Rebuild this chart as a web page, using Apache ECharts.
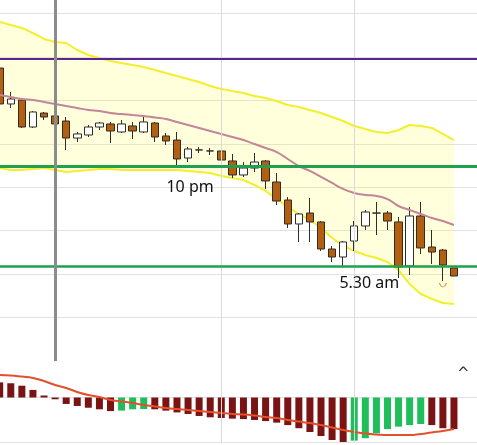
<!DOCTYPE html>
<html>
<head>
<meta charset="utf-8">
<script src="https://cdn.jsdelivr.net/npm/echarts@6/dist/echarts.min.js"></script>
<style>
html,body{margin:0;padding:0;background:#fff;}
#chart{width:477px;height:445px;}
</style>
</head>
<body>
<div id="chart"></div>
<script>
const categories = ['13:30','14:00','14:30','15:00','15:30','16:00','16:30','17:00','17:30','18:00','18:30','19:00','19:30','20:00','20:30','21:00','21:30','22:00','22:30','23:00','23:30','00:00','00:30','01:00','01:30','02:00','02:30','03:00','03:30','04:00','04:30','05:00','05:30','06:00','06:30','07:00','07:30','08:00','08:30','09:00','09:30','10:00','10:30','11:00'];

// [open, close, low, high]
const candles = [
  [2328.72,2324.58,2324.35,2328.95],
  [2324.58,2325.15,2324.12,2325.96],
  [2325.04,2321.93,2321.82,2325.27],
  [2321.93,2323.66,2321.82,2323.77],
  [2323.54,2323.08,2322.74,2323.66],
  [2323.20,2322.28,2322.16,2323.31],
  [2322.62,2320.66,2319.28,2323.08],
  [2320.66,2321.13,2320.20,2321.36],
  [2321.01,2321.93,2320.78,2322.16],
  [2321.93,2322.39,2321.59,2322.51],
  [2322.28,2321.47,2320.09,2322.51],
  [2321.36,2322.28,2321.24,2322.74],
  [2322.05,2321.47,2320.55,2322.51],
  [2321.36,2322.51,2321.24,2323.08],
  [2322.39,2320.78,2320.20,2322.51],
  [2320.90,2320.32,2319.86,2321.24],
  [2320.43,2318.25,2317.56,2321.36],
  [2318.36,2319.40,2317.90,2319.63],
  [2319.28,2319.30,2318.94,2319.63],
  [2319.17,2319.18,2318.71,2319.51],
  [2319.17,2318.13,2317.79,2319.28],
  [2318.02,2316.41,2316.06,2318.82],
  [2316.41,2317.21,2316.18,2317.90],
  [2317.21,2317.90,2316.75,2318.94],
  [2318.02,2315.72,2314.80,2318.13],
  [2315.60,2313.41,2312.95,2316.64],
  [2313.53,2310.77,2310.31,2313.87],
  [2310.77,2311.92,2308.70,2312.03],
  [2312.03,2311.00,2308.70,2313.76],
  [2311.00,2307.89,2307.66,2311.11],
  [2307.89,2306.97,2306.39,2308.24],
  [2306.97,2308.70,2305.93,2308.81],
  [2308.81,2310.54,2307.66,2311.11],
  [2310.54,2312.15,2310.08,2312.38],
  [2312.02,2312.03,2309.50,2313.30],
  [2312.03,2311.11,2310.08,2312.26],
  [2311.00,2305.82,2304.55,2311.57],
  [2305.93,2311.69,2304.90,2312.72],
  [2311.69,2308.01,2307.31,2313.30],
  [2308.12,2307.54,2306.16,2310.08],
  [2307.77,2306.05,2304.21,2307.89],
  [2305.70,2304.78,2304.78,2305.70]
];

const movingAvg = [2325.61,2325.38,2325.15,2325.04,2324.81,2324.58,2324.35,2324.12,2323.89,2323.77,2323.54,2323.43,2323.31,2323.20,2323.02,2322.85,2322.51,2322.16,2321.82,2321.47,2321.13,2320.78,2320.43,2319.97,2319.51,2319.05,2318.25,2317.44,2316.87,2316.18,2315.49,2314.80,2314.34,2314.11,2313.99,2313.64,2312.84,2312.38,2311.92,2311.46,2311.11,2310.65];

const bbUpper = [2334.02,2333.67,2333.33,2332.75,2332.06,2331.71,2331.60,2330.79,2330.22,2329.87,2329.53,2329.30,2329.07,2328.84,2328.49,2328.15,2327.80,2327.46,2327.11,2326.65,2326.30,2326.07,2325.84,2325.50,2325.27,2324.92,2324.46,2324.23,2323.89,2323.54,2323.08,2322.62,2322.05,2321.70,2321.36,2321.24,2321.59,2322.16,2322.05,2321.82,2321.13,2320.43];

const bbLower = [2317.21,2316.98,2316.98,2317.10,2317.21,2316.98,2316.75,2316.87,2316.98,2317.10,2317.10,2316.98,2316.98,2316.98,2316.98,2316.98,2316.98,2316.87,2316.75,2316.64,2316.29,2316.06,2315.83,2315.26,2314.57,2313.64,2312.72,2311.92,2311.23,2310.31,2309.16,2308.24,2307.66,2307.20,2306.85,2306.39,2305.47,2303.86,2302.71,2302.14,2301.68,2301.56];

const macdHist = [0.68,0.64,0.53,0.34,0.09,-0.08,-0.29,-0.38,-0.46,-0.53,-0.61,-0.59,-0.53,-0.52,-0.53,-0.59,-0.67,-0.74,-0.83,-0.89,-0.92,-0.95,-0.97,-1.01,-1.06,-1.13,-1.24,-1.38,-1.55,-1.73,-1.91,-2.00,-1.94,-1.83,-1.61,-1.42,-1.31,-1.24,-1.19,-1.24,-1.38,-1.42];

const macdSignal = [1.01,0.99,0.94,0.88,0.74,0.56,0.43,0.25,0.11,0.02,-0.11,-0.18,-0.25,-0.34,-0.40,-0.47,-0.52,-0.56,-0.61,-0.65,-0.70,-0.74,-0.76,-0.81,-0.88,-0.92,-1.01,-1.08,-1.15,-1.24,-1.35,-1.46,-1.55,-1.62,-1.66,-1.69,-1.69,-1.69,-1.64,-1.57,-1.51,-1.42];

const resistanceLevel = 2329.75;
const supportLevels = [2317.44, 2305.93];
const cursorTime = '16:00';
const sessionTimes = ['23:30','05:30'];
const notes = [
  {text:'10 pm', time:'22:00', price:2315.03, dx:2},
  {text:'5.30 am', time:'06:00', price:2303.98, dx:4}
];
const arcMark = {time:'09:30', price:2303.75};

const bandWidth = bbUpper.map((u,i)=>+(u - bbLower[i]).toFixed(2));

const chart = echarts.init(document.getElementById('chart'), null, {renderer:'canvas'});
const gridLeft = -5.84, gridWidth = 487.5;
const BAND = '#F3EF2E';
const option = {
  animation:false,
  backgroundColor:'#fff',
  grid:[
    {left:gridLeft, width:gridWidth, top:-30, height:391, outerBoundsMode:'none', containLabel:false},
    {left:gridLeft, width:gridWidth, top:353, height:89, outerBoundsMode:'none', containLabel:false}
  ],
  xAxis:[
    {type:'category', data:categories, gridIndex:0, boundaryGap:true,
     axisLine:{show:false}, axisTick:{show:false}, axisLabel:{show:false}, splitLine:{show:false}},
    {type:'category', data:categories, gridIndex:1, boundaryGap:true,
     axisLine:{show:false}, axisTick:{show:false}, axisLabel:{show:false}, splitLine:{show:false}}
  ],
  yAxis:[
    {type:'value', gridIndex:0, min:2295, max:2340, interval:5, scale:true,
     axisLine:{show:false}, axisTick:{show:false}, axisLabel:{show:false},
     splitLine:{show:true, showMinLine:false, showMaxLine:false, lineStyle:{color:'#e2e2e2', width:1}}},
    {type:'value', gridIndex:1, min:-2, max:2, interval:2,
     axisLine:{show:false}, axisTick:{show:false}, axisLabel:{show:false},
     splitLine:{show:true, showMaxLine:false, lineStyle:{color:'#e2e2e2', width:1}}}
  ],
  series:[
    {name:'BB lower', type:'line', data:bbLower, stack:'bb', symbol:'none', z:1,
     lineStyle:{color:BAND, width:2}, silent:true,
     markLine:{silent:true, symbol:'none', label:{show:false}, animation:false,
       lineStyle:{color:'#dadada', width:1, type:'solid'},
       data: sessionTimes.map(t=>({xAxis:t}))}},
    {name:'BB upper', type:'line', data:bandWidth, stack:'bb', symbol:'none', z:1,
     lineStyle:{color:BAND, width:2}, areaStyle:{color:'rgba(255,255,0,0.2)'}, silent:true},
    {name:'Price', type:'candlestick', data:candles, barWidth:8, z:3,
     itemStyle:{color:'#ffffff', color0:'#B45F0F', borderColor:'#2d2d2d', borderColor0:'#2d2d2d', borderWidth:1},
     markPoint:{silent:true, animation:false,
       data: notes.map(n=>({coord:[n.time, n.price], symbol:'rect', symbolSize:[1,1],
         itemStyle:{color:'rgba(0,0,0,0)'},
         label:{show:true, position:'inside', offset:[n.dx,0], formatter:n.text, color:'#111', fontSize:16, fontFamily:'Noto Sans'}}))
         .concat([{coord:[arcMark.time, arcMark.price], symbol:'path://M0,0 Q5,7 10,0', symbolSize:[7,4],
           itemStyle:{color:'rgba(0,0,0,0)', borderColor:'#D48A4A', borderWidth:1}, label:{show:false}}])
     }},
    {name:'MA', type:'line', data:movingAvg, symbol:'none', smooth:true, z:4,
     lineStyle:{color:'#C4849A', width:2},
     markLine:{silent:true, symbol:'none', label:{show:false}, animation:false,
       data:[
         {yAxis:resistanceLevel, lineStyle:{color:'#5A2397', width:2, type:'solid'}},
         {yAxis:supportLevels[0], lineStyle:{color:'#21A04E', width:3, type:'solid'}},
         {yAxis:supportLevels[1], lineStyle:{color:'#21A04E', width:2.5, type:'solid'}},
         {xAxis:cursorTime, lineStyle:{color:'#8c8c8c', width:3, type:'solid'}}
       ]}},
    {name:'MACD hist', type:'bar', xAxisIndex:1, yAxisIndex:1, data:macdHist, barWidth:7, z:2,
     itemStyle:{color:(p)=>{const i=p.dataIndex; return (i>0 && macdHist[i]>macdHist[i-1]) ? '#20BE5A' : '#7A1414';}},
     markLine:{silent:true, symbol:'none', label:{show:false}, animation:false,
       lineStyle:{color:'#dadada', width:1, type:'solid'},
       data: sessionTimes.map(t=>({xAxis:t}))}},
    {name:'Signal', type:'line', xAxisIndex:1, yAxisIndex:1, data:macdSignal, symbol:'none', smooth:true, z:3,
     lineStyle:{color:'#E2502C', width:2}}
  ],
  graphic:[
    {type:'text', left:457, top:367, style:{text:'^', fontSize:15, fontFamily:'DejaVu Sans', fill:'#333'}}
  ]
};
chart.setOption(option);
</script>
</body>
</html>
